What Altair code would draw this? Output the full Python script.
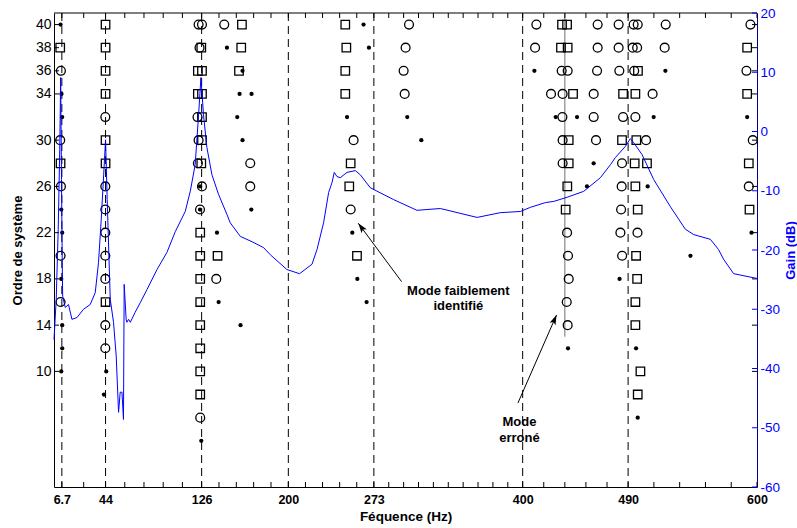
import math
import altair as alt
import pandas as pd

FONT = "Liberation Sans"
W, H = 703, 474          # plot area in pixels
BLUE = "#0000ff"

# ---- axes -------------------------------------------------------------
freq_ticks = [6.7, 44, 126, 200, 273, 400, 490, 600]
mode_lines = [6.7, 44, 126, 200, 273, 400, 490]
minor_divisions = [2, 5, 5, 5, 10, 5, 5]      # sub-intervals between labelled ticks
order_ticks = [40, 38, 36, 34, 30, 26, 22, 18, 14, 10]
gain_ticks = [20, 10, 0, -10, -20, -30, -40, -50, -60]

# ---- stabilisation diagram (frequency in Hz, model order) -------------
dot_freq = [5.6, 6.4, 7.0, 6.2, 7.0, 6.2, 7.0, 7.0, 6.2,
            44.6, 42.6,
            147.6, 160.9, 158.4, 168.6, 156.4, 160.9, 124.6, 124.6, 168.4, 139.1, 140.5, 159.2, 125.7,
            264.2, 268.8, 250.1, 301.5, 313.5, 254.6, 258.9, 266.8,
            410.0, 521.8, 428.2, 446.4, 511.8, 591.6, 460.6, 454.9, 506.7, 595.3, 543.2, 482.7,
            438.7, 496.8, 498.2]
dot_order = [40, 34, 32, 24, 22, 18, 14, 12, 10,
             10, 8,
             38, 36, 34, 34, 32, 30, 26, 24, 24, 22, 16, 14, 4,
             40, 38, 32, 32, 30, 22, 18, 16,
             36, 36, 32, 32, 32, 32, 28, 26, 26, 22, 20, 18,
             12, 12, 6]

circle_freq = [5.9, 5.3, 5.9, 5.6, 5.6,
               43.8, 43.8, 43.8, 43.8, 43.8, 43.8, 43.8, 43.8,
               123.4, 126.3, 145.3, 124.2, 122.5, 123.4, 122.8, 167.5, 126.3, 167.5, 124.6, 138.5, 124.8,
               303.0, 300.1, 298.4, 299.3, 255.7, 253.2,
               411.7, 464.0, 481.9, 494.7, 498.2, 522.1, 594.4,
               410.6, 464.0, 481.9, 493.9, 497.7, 521.2,
               433.3, 438.4, 463.5, 482.5, 495.2, 591.0,
               424.2, 434.1, 460.6, 510.9,
               433.9, 460.6, 485.7, 496.2,
               434.1, 462.6, 505.3, 596.4,
               434.1, 484.8,
               484.5, 593.0,
               484.0,
               437.9, 483.4, 498.0,
               438.7, 484.9,
               439.3, 437.6, 438.4]
circle_order = [36, 30, 26, 20, 16,
                32, 26, 24, 22, 20, 18, 14, 12,
                40, 40, 40, 38, 32, 30, 28, 28, 26, 26, 24, 18, 6,
                40, 38, 36, 34, 30, 24,
                40, 40, 40, 40, 40, 40, 40,
                38, 38, 38, 38, 38, 38,
                36, 36, 36, 36, 36, 36,
                34, 34, 34, 34,
                32, 32, 32, 32,
                30, 30, 30, 30,
                28, 28,
                26, 26,
                24,
                22, 22, 22,
                20, 20,
                18, 16, 14]

square_freq = [5.3, 5.6,
               44, 44, 44, 44, 44, 44, 44,
               160.4, 125.7, 159.8, 122.8, 126.3, 157.9, 122.8, 126.3, 126.3, 126.3, 125.7,
               124.8, 124.8, 139.6, 124.8, 124.8, 124.8, 124.8, 124.8, 124.8,
               248.6, 249.5, 248.6, 248.6, 253.2, 252.0, 258.6,
               433.6, 437.9,
               432.7, 438.4, 591.6,
               498.4,
               443.0, 485.7, 496.2, 591.6,
               439.3, 484.8, 497.0,
               439.3, 495.6, 506.1, 593.0,
               438.1, 496.2,
               436.7, 498.2, 593.6,
               496.8, 497.7, 496.2, 496.2, 500.5, 498.2]
square_order = [38, 28,
                40, 38, 36, 34, 30, 28, 16,
                40, 38, 38, 36, 36, 36, 34, 34, 32, 30, 28,
                22, 20, 20, 18, 16, 14, 12, 10, 8,
                40, 38, 36, 34, 28, 26, 20,
                40, 40,
                38, 38, 38,
                36,
                34, 34, 34, 34,
                30, 30, 30,
                28, 28, 28, 28,
                26, 26,
                24, 24, 24,
                20, 18, 16, 14, 10, 8]

# ---- measured gain of the transfer function ---------------------------
frf_freq = [0.0, 1.9, 3.6, 4.9, 5.7, 6.4, 7.0, 7.4, 9.6, 12.4, 15.3, 19.6, 25.2, 30.9,
            35.2, 38.0, 40.3, 42.4, 44.0, 45.4, 48.0, 50.8, 53.1, 55.1, 56.5, 58.0, 59.3,
            59.9, 61.6, 62.2, 63.6, 65.1, 69.3, 73.6, 79.3, 87.9, 96.4, 103.5, 112.0, 116.3,
            120.5, 123.4, 125.4, 127.6, 130.5, 134.8, 140.4, 147.6, 150.4, 159.0, 169.0,
            178.9, 184.6, 198.8, 209.6, 220.2, 224.5, 230.1, 234.4, 237.3, 239.2, 241.5,
            244.3, 250.1, 257.2, 261.4, 270.0, 289.9, 309.8, 329.7, 361.1, 380.9, 398.0,
            406.6, 419.4, 426.5, 437.9, 452.1, 466.3, 474.9, 479.1, 487.7, 491.9, 494.8,
            501.9, 511.8, 526.1, 538.9, 546.0, 560.2, 567.1, 571.6, 580.1, 600.0]
frf_gain = [-35.1, -28.3, -16.5, -3.1, 9.1, -8.1, -21.6, -27.8, -29.7, -29.2, -31.7, -31.4,
            -30.0, -29.2, -27.2, -22.1, -14.9, -7.3, -1.4, -11.5, -28.3, -32.2, -37.9, -47.4,
            -44.0, -44.0, -48.6, -25.8, -31.8, -32.2, -31.7, -32.2, -30.5, -28.9, -26.7,
            -23.3, -20.4, -16.9, -13.5, -10.1, -5.6, 2.8, 9.1, 2.8, -2.7, -7.3, -10.6, -14.0,
            -15.4, -17.7, -18.6, -19.6, -20.8, -23.3, -24.0, -22.4, -19.9, -15.4, -10.3,
            -8.6, -6.9, -7.6, -7.8, -6.9, -6.6, -7.3, -9.5, -11.5, -13.3, -13.0, -14.5,
            -13.7, -13.5, -12.8, -12.0, -11.8, -11.1, -10.1, -7.8, -5.6, -4.4, -2.5, -1.2,
            -1.9, -3.9, -8.1, -12.7, -16.5, -17.4, -18.2, -19.9, -21.6, -24.0, -24.8]

# ---- annotations (Hz, model order) ------------------------------------
note_text = ["Mode faiblement", "identifié", "Mode", "erroné"]
note_freq = [345.1, 345.1, 397.2, 397.2]
note_order = [16.98, 15.66, 5.65, 4.24]
arrow_tail_freq = [296.7, 396.0]
arrow_tail_order = [17.76, 7.27]
arrow_tip_freq = [259.7, 428.9]
arrow_tip_order = [22.81, 14.88]

# ---- scales & axes ----------------------------------------------------
x_scale = alt.Scale(domain=[0, 600], nice=False, zero=False)
order_scale = alt.Scale(domain=[0, 41], nice=False, zero=False)
gain_scale = alt.Scale(domain=[-60, 20], nice=False, zero=False)

x_axis = alt.Axis(values=freq_ticks, format=".1~f", ticks=False, grid=False,
                  domainColor="black", domainWidth=1,
                  labelFont=FONT, labelFontSize=12.5, labelFontWeight="bold",
                  labelColor="black", labelPadding=6, labelOverlap=False, labelFlush=False,
                  title="Féquence (Hz)", titleFont=FONT, titleFontSize=13.5,
                  titleFontWeight="bold", titleColor="black",
                  titleX=W / 2, titleY=29, titleBaseline="middle", titleAlign="center")
order_axis = alt.Axis(values=order_ticks, format="d", ticks=False, grid=False,
                      domainColor="black", domainWidth=1,
                      labelFont=FONT, labelFontSize=14, labelColor="black", labelPadding=3,
                      labelOverlap=False,
                      title="Ordre de système", titleFont=FONT, titleFontSize=13,
                      titleFontWeight="bold", titleColor="black", titleAngle=270,
                      titleX=-37, titleY=H / 2, titleBaseline="middle", titleAlign="center")
gain_axis = alt.Axis(orient="right", values=gain_ticks, ticks=False, grid=False,
                     labelExpr="datum.value < 0 ? '-' + abs(datum.value) : '' + datum.value",
                     domainColor="#00008b", domainWidth=1,
                     labelFont=FONT, labelFontSize=13.5, labelColor=BLUE, labelPadding=3,
                     labelOverlap=False,
                     title="Gain (dB)", titleFont=FONT, titleFontSize=13,
                     titleFontWeight="bold", titleColor=BLUE, titleAngle=270,
                     titleX=33, titleY=H / 2, titleBaseline="middle", titleAlign="center")


def X():
    return alt.X("freq:Q", scale=x_scale, axis=x_axis)


def Y():
    return alt.Y("order:Q", scale=order_scale, axis=order_axis)


def G():
    return alt.Y("gain:Q", scale=gain_scale, axis=gain_axis)


# minor tick positions: equal subdivisions between the labelled ticks
tick_pos = []
for a, b, n in zip(freq_ticks[:-1], freq_ticks[1:], minor_divisions):
    tick_pos += [a + (b - a) * k / n for k in range(n)]
tick_pos.append(freq_ticks[-1])
tick_df = pd.DataFrame({"freq": tick_pos})

# ---- left (model order) layers ----------------------------------------
dashed = alt.Chart(pd.DataFrame({"freq": mode_lines})).mark_rule(
    color="black", strokeWidth=1, strokeDash=[8, 5]
).encode(x=X(), y=alt.value(0), y2=alt.value(H))

track = alt.Chart(pd.DataFrame({"freq": [436.0], "order": [13.0], "top": [41.0]})).mark_rule(
    color="#707070", strokeWidth=1
).encode(x=X(), y=Y(), y2="top:Q")

squares = alt.Chart(pd.DataFrame({"freq": square_freq, "order": square_order})).mark_point(
    shape="square", size=72, filled=False, color="black", strokeWidth=1.3, opacity=1
).encode(x=X(), y=Y())

circles = alt.Chart(pd.DataFrame({"freq": circle_freq, "order": circle_order})).mark_point(
    shape="circle", size=78, filled=False, color="black", strokeWidth=1.3, opacity=1
).encode(x=X(), y=Y())

dots = alt.Chart(pd.DataFrame({"freq": dot_freq, "order": dot_order})).mark_point(
    shape="circle", size=18, filled=True, color="black", opacity=1
).encode(x=X(), y=Y())

bottom_ticks = alt.Chart(tick_df).mark_rule(color="black").encode(
    x=X(), y=alt.value(H - 5), y2=alt.value(H))
top_ticks = alt.Chart(tick_df).mark_rule(color="black").encode(
    x=X(), y=alt.value(0), y2=alt.value(5))
top_border = alt.Chart(pd.DataFrame({"freq": [0.0], "end": [600.0]})).mark_rule(
    color="black", strokeWidth=1
).encode(x=X(), x2="end:Q", y=alt.value(0))

otick_df = pd.DataFrame({"order": order_ticks})
left_ticks = alt.Chart(otick_df).mark_rule(color="black").encode(
    y=Y(), x=alt.value(0), x2=alt.value(5))
right_ticks = alt.Chart(otick_df).mark_rule(color="black").encode(
    y=Y(), x=alt.value(W - 5), x2=alt.value(W))

notes = alt.Chart(pd.DataFrame({"freq": note_freq, "order": note_order, "t": note_text})).mark_text(
    font=FONT, fontSize=13, fontWeight="bold", color="black", align="center", baseline="middle"
).encode(x=X(), y=Y(), text="t:N")

arrow_df = pd.DataFrame({"freq": arrow_tail_freq, "order": arrow_tail_order,
                         "f2": arrow_tip_freq, "o2": arrow_tip_order})
shafts = alt.Chart(arrow_df).mark_rule(color="black", strokeWidth=1).encode(
    x=X(), y=Y(), x2="f2:Q", y2="o2:Q")

# heading of each arrow in screen space (degrees clockwise from up)
sx, sy = W / 600.0, H / 41.0
angles = []
for f1, o1, f2, o2 in zip(arrow_tail_freq, arrow_tail_order, arrow_tip_freq, arrow_tip_order):
    dx = (f2 - f1) * sx
    dy = -(o2 - o1) * sy
    angles.append(math.degrees(math.atan2(dx, -dy)) % 360)
head_df = pd.DataFrame({"freq": arrow_tip_freq, "order": arrow_tip_order, "ang": angles})
heads = alt.Chart(head_df).mark_point(
    shape="M0,0L-0.36,1.1L0,0.85L0.36,1.1Z", size=324, filled=True,
    color="black", opacity=1, strokeWidth=0
).encode(x=X(), y=Y(), angle=alt.Angle("ang:Q", scale=None))

left = alt.layer(dashed, track, squares, circles, dots, bottom_ticks, top_ticks, top_border,
                 left_ticks, right_ticks, shafts, heads, notes)

# ---- right (gain) layers -----------------------------------------------
gain_line = alt.Chart(pd.DataFrame({"freq": frf_freq, "gain": frf_gain})).mark_line(
    color=BLUE, strokeWidth=1
).encode(x=X(), y=G())
gain_marks = alt.Chart(pd.DataFrame({"gain": gain_ticks})).mark_rule(color=BLUE).encode(
    y=G(), x=alt.value(W - 5), x2=alt.value(W))
right = alt.layer(gain_line, gain_marks)

chart = alt.layer(left, right).resolve_scale(y="independent").properties(
    width=W, height=H,
    padding={"left": 54, "top": 13, "right": 40, "bottom": 41},
    autosize=alt.AutoSizeParams(type="none"),
    background="white",
).configure_view(stroke=None)

chart.save("out.html", embed_options={"renderer": "svg", "actions": False})
